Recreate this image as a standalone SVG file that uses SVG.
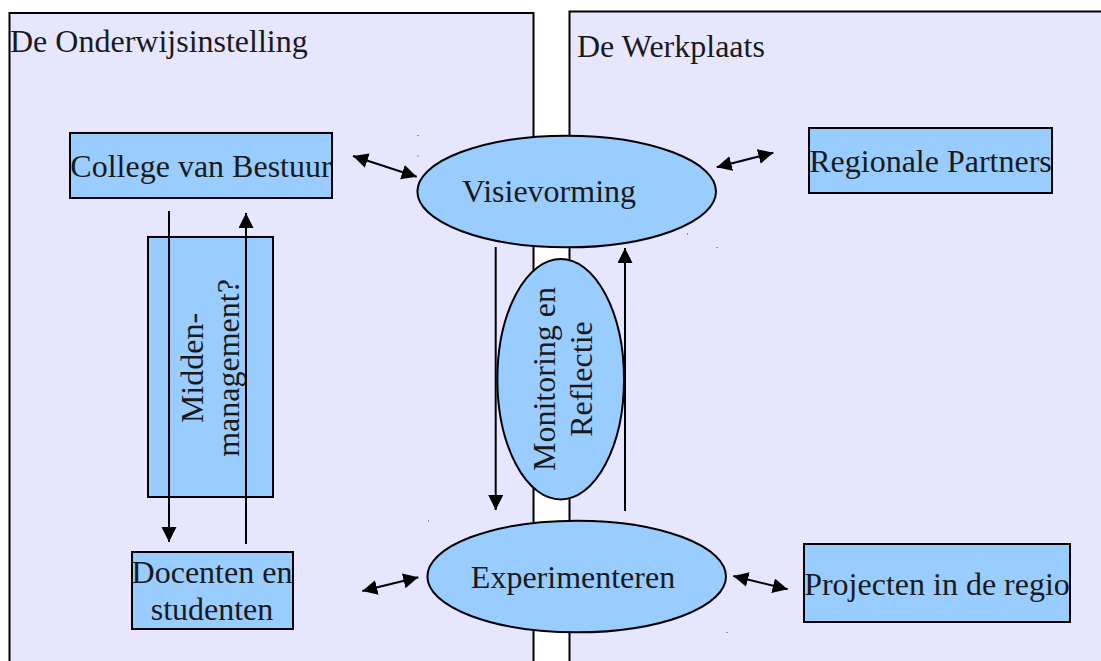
<svg xmlns="http://www.w3.org/2000/svg" width="1101" height="661" viewBox="0 0 1101 661">
<defs>
<style>
.panel{fill:#e6e6ff;stroke:#000;stroke-width:2}
.box{fill:#99ccff;stroke:#000;stroke-width:2}
.ell{fill:#99ccff;stroke:#000;stroke-width:2}
.t{font-family:"Liberation Serif","Times New Roman",serif;font-size:32px;fill:#1a1a1a}
.c{text-anchor:middle}
.con line{stroke:#000;stroke-width:2;fill:none}
.dot{fill:#333}
</style>
<marker id="ah" markerUnits="userSpaceOnUse" markerWidth="16" markerHeight="16" refX="15" refY="7.5" orient="auto-start-reverse">
<path d="M0,0 L15,7.5 L0,15 z" fill="#000"/>
</marker>
</defs>
<rect width="1101" height="661" fill="#ffffff"/>
<g id="panel-onderwijs">
<rect class="panel" x="9.5" y="13" width="524" height="700"/>
<text class="t" x="10" y="52">De Onderwijsinstelling</text>
</g>
<g id="panel-werkplaats">
<rect class="panel" x="569.5" y="11.5" width="600" height="700"/>
<text class="t" x="577" y="57">De Werkplaats</text>
</g>
<g id="college">
<rect class="box" x="70" y="133" width="262" height="65"/>
<text class="t c" x="201" y="177">College van Bestuur</text>
</g>
<g id="midden">
<rect class="box" x="148" y="237" width="125" height="260"/>
<g transform="translate(210,368) rotate(-90)">
<text class="t c" x="0" y="-7">Midden-</text>
<text class="t c" x="0" y="29">management?</text>
</g>
</g>
<g id="docenten">
<rect class="box" x="132" y="552" width="161" height="77"/>
<text class="t c" x="212" y="583">Docenten en</text>
<text class="t c" x="212" y="620">studenten</text>
</g>
<g id="visievorming">
<ellipse class="ell" cx="566.7" cy="191.5" rx="149.3" ry="55.8"/>
<text class="t c" x="549" y="202">Visievorming</text>
</g>
<g id="monitoring">
<ellipse class="ell" cx="560.7" cy="379.2" rx="63.3" ry="120.2"/>
<g transform="translate(560.7,379) rotate(-90)">
<text class="t c" x="0" y="-5.5">Monitoring en</text>
<text class="t c" x="0" y="31">Reflectie</text>
</g>
</g>
<g id="experimenteren">
<ellipse class="ell" cx="576.7" cy="576.5" rx="149.3" ry="55.8"/>
<text class="t c" x="573" y="588">Experimenteren</text>
</g>
<g id="regionale">
<rect class="box" x="809" y="128" width="243" height="65"/>
<text class="t c" x="930.5" y="172">Regionale Partners</text>
</g>
<g id="projecten">
<rect class="box" x="804" y="544" width="266" height="78"/>
<text class="t c" x="937" y="595">Projecten in de regio</text>
</g>
<g id="connectors" class="con">
<line x1="353" y1="156" x2="416.7" y2="176.7" marker-start="url(#ah)" marker-end="url(#ah)"/>
<line x1="716.7" y1="167.3" x2="773.3" y2="152.7" marker-start="url(#ah)" marker-end="url(#ah)"/>
<line x1="362.3" y1="591" x2="418.3" y2="577.3" marker-start="url(#ah)" marker-end="url(#ah)"/>
<line x1="733.3" y1="576" x2="787.7" y2="589.3" marker-start="url(#ah)" marker-end="url(#ah)"/>
<line x1="169" y1="211" x2="169" y2="542" marker-end="url(#ah)"/>
<line x1="246" y1="544" x2="246" y2="213" marker-end="url(#ah)"/>
<line x1="495.7" y1="247" x2="495.7" y2="510" marker-end="url(#ah)"/>
<line x1="625" y1="511" x2="625" y2="248" marker-end="url(#ah)"/>
</g>
<g id="marks">
<rect class="dot" x="417.5" y="135" width="1" height="1"/>
<rect class="dot" x="417.5" y="155.5" width="1" height="1"/>
<rect class="dot" x="687" y="233.5" width="1" height="1"/>
<rect class="dot" x="716.5" y="247" width="1" height="1"/>
<rect class="dot" x="428" y="520.5" width="1" height="1"/>
<rect class="dot" x="726.5" y="632" width="1" height="1"/>
</g>
</svg>
